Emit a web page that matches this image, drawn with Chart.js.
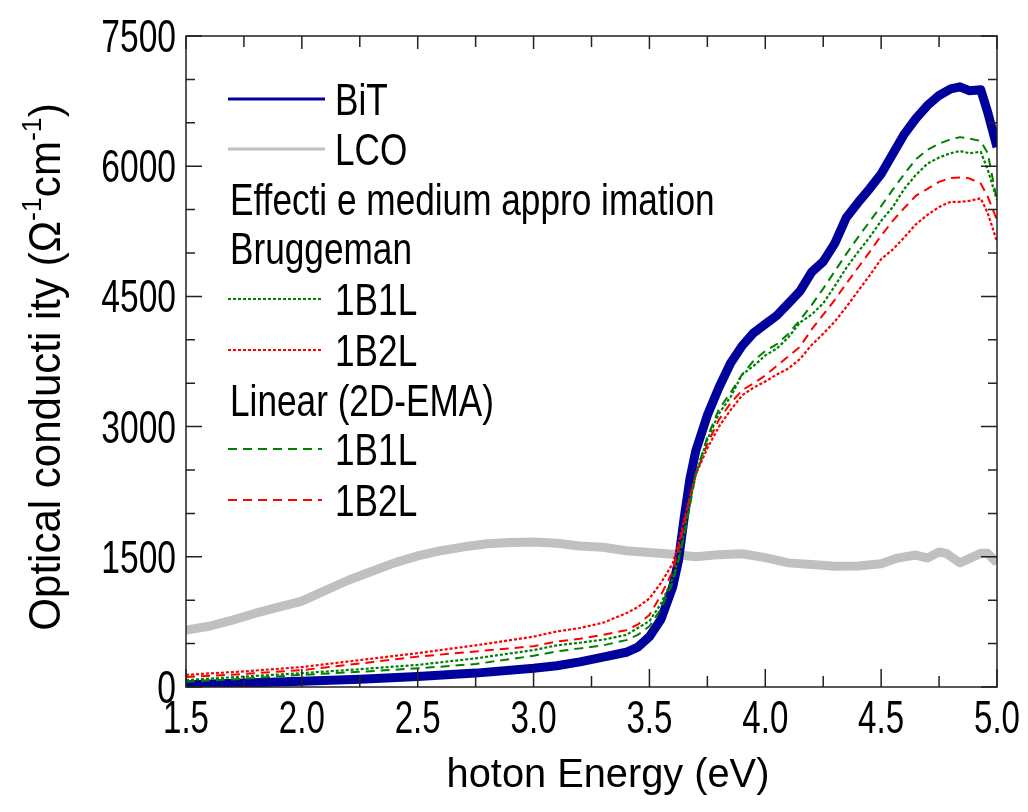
<!DOCTYPE html>
<html>
<head>
<meta charset="utf-8">
<title>Optical conductivity</title>
<script src="https://cdn.jsdelivr.net/npm/chart.js@4.4.1/dist/chart.umd.min.js"></script>
<style>
  html, body { margin: 0; padding: 0; background: #fff; }
  canvas { display: block; }
</style>
</head>
<body>
<canvas id="chart" width="1028" height="812"></canvas>
<script>
// photon energy (eV) shared by the film and model curves
const energy = [1.5, 1.75, 2.0, 2.25, 2.5, 2.75, 3.0, 3.1, 3.2, 3.3, 3.4, 3.45, 3.5, 3.55, 3.6, 3.625, 3.65, 3.675, 3.7, 3.75,
  3.8, 3.85, 3.9, 3.95, 4.0, 4.05, 4.1, 4.15, 4.2, 4.25, 4.3, 4.35, 4.4, 4.45, 4.5, 4.55, 4.6, 4.65, 4.7, 4.75,
  4.8, 4.84, 4.88, 4.93, 4.96, 5.0];

// BiT film
const bit = [25, 45, 65, 90, 120, 160, 215, 245, 290, 345, 400, 460, 580, 780, 1150, 1450, 1950, 2400, 2720, 3130,
  3450, 3730, 3930, 4080, 4180, 4280, 4420, 4560, 4780, 4900, 5110, 5410, 5580, 5740, 5910, 6140, 6370, 6550, 6700, 6815,
  6890, 6915, 6870, 6880, 6620, 6220];

// Bruggeman effective medium
const brug1B1L = [80, 120, 160, 205, 255, 330, 425, 480, 510, 545, 600, 680, 760, 960, 1250, 1480, 1780, 2120, 2450, 2850,
  3150, 3340, 3600, 3700, 3820, 3900, 4030, 4200, 4290, 4420, 4620, 4830, 5010, 5180, 5370, 5530, 5740, 5900, 6030, 6100,
  6150, 6175, 6150, 6165, 5960, 5610];
const brug1B2L = [140, 180, 230, 310, 390, 480, 580, 640, 680, 740, 850, 920, 1020, 1200, 1420, 1640, 1930, 2200, 2450, 2750,
  3000, 3190, 3360, 3450, 3520, 3600, 3670, 3780, 3940, 4070, 4210, 4380, 4560, 4740, 4930, 5040, 5180, 5330, 5440, 5530,
  5590, 5590, 5600, 5630, 5460, 5130];

// linear (2D-EMA)
const lin1B1L = [60, 95, 140, 175, 215, 265, 360, 410, 445, 480, 540, 600, 700, 900, 1200, 1450, 1750, 2100, 2450, 2880,
  3200, 3390, 3600, 3760, 3870, 3950, 4070, 4230, 4400, 4590, 4790, 4990, 5180, 5360, 5540, 5730, 5910, 6080, 6190, 6260,
  6310, 6335, 6320, 6290, 6150, 5600];
const lin1B2L = [115, 150, 195, 270, 350, 410, 470, 525, 555, 600, 655, 720, 830, 1060, 1330, 1580, 1880, 2180, 2450, 2800,
  3080, 3270, 3420, 3500, 3590, 3700, 3810, 3920, 4120, 4290, 4460, 4650, 4830, 5010, 5200, 5370, 5520, 5660, 5740, 5820,
  5865, 5870, 5860, 5800, 5650, 5380];

// LCO film
const lcoEnergy = [1.5, 1.6, 1.7, 1.8, 1.9, 2.0, 2.1, 2.2, 2.3, 2.4, 2.5, 2.6, 2.7, 2.8, 2.9, 3.0, 3.1, 3.2, 3.3, 3.4,
  3.5, 3.6, 3.7, 3.8, 3.9, 4.0, 4.1, 4.2, 4.3, 4.4, 4.5, 4.57, 4.65, 4.7, 4.75, 4.78, 4.84, 4.93, 4.96, 5.0];
const lco = [655, 700, 770, 850, 920, 990, 1110, 1230, 1330, 1430, 1510, 1570, 1615, 1650, 1665, 1670, 1655, 1625, 1610, 1570,
  1550, 1530, 1500, 1525, 1535, 1490, 1430, 1410, 1390, 1395, 1420, 1485, 1520, 1485, 1555, 1540, 1430, 1540, 1540, 1430];

const xTickValues = [1.5, 2.0, 2.5, 3.0, 3.5, 4.0, 4.5, 5.0];
const xTickLabels = ['1.5', '2.0', '2.5', '3.0', '3.5', '4.0', '4.5', '5.0'];
const yTickValues = [0, 1500, 3000, 4500, 6000, 7500];
const yTickLabels = ['0', '1500', '3000', '4500', '6000', '7500'];

const FONT = "'Liberation Sans', Arial, sans-serif";
const DOT = [3, 2];
const DASH = [9, 6];

function pts(xs, ys) {
  return xs.map((e, i) => ({ x: e, y: ys[i] }));
}

// narrow text: draw with a horizontal squeeze
function narrowText(ctx, text, x, y, size, squeeze, align) {
  ctx.save();
  ctx.font = size + 'px ' + FONT;
  const w = ctx.measureText(text).width * squeeze;
  let left = x;
  if (align === 'center') left = x - w / 2;
  else if (align === 'right') left = x - w;
  ctx.translate(left, y);
  ctx.scale(squeeze, 1);
  ctx.textAlign = 'left';
  ctx.fillText(text, 0, 0);
  ctx.restore();
}

// legend rows: text, and the dataset index whose line is shown (null = heading)
const legendRows = [
  { text: 'BiT', ds: 4, indent: false },
  { text: 'LCO', ds: 5, indent: false },
  { text: 'Effecti e medium appro imation', ds: null },
  { text: 'Bruggeman', ds: null },
  { text: '1B1L', ds: 0, indent: true },
  { text: '1B2L', ds: 1, indent: true },
  { text: 'Linear (2D-EMA)', ds: null },
  { text: '1B1L', ds: 2, indent: true },
  { text: '1B2L', ds: 3, indent: true }
];

const decorations = {
  id: 'decorations',
  afterDraw(chart) {
    const { ctx, chartArea: a, scales: { x, y } } = chart;
    ctx.save();

    // frame with inward ticks on all four sides
    ctx.strokeStyle = '#222';
    ctx.lineWidth = 1.5;
    ctx.strokeRect(a.left, a.top, a.right - a.left, a.bottom - a.top);
    ctx.beginPath();
    for (let i = 0; i <= 14; i++) {
      const px = x.getPixelForValue(1.5 + i * 0.25);
      const len = i % 2 === 0 ? 18 : 11;
      ctx.moveTo(px, a.bottom); ctx.lineTo(px, a.bottom - len);
      ctx.moveTo(px, a.top); ctx.lineTo(px, a.top + (i % 2 === 0 ? 13 : 11));
    }
    for (let i = 0; i <= 15; i++) {
      const py = y.getPixelForValue(i * 500);
      const len = i % 3 === 0 ? 16 : 9;
      ctx.moveTo(a.left, py); ctx.lineTo(a.left + len, py);
      ctx.moveTo(a.right, py); ctx.lineTo(a.right - len, py);
    }
    ctx.stroke();

    ctx.fillStyle = '#000';
    ctx.textBaseline = 'alphabetic';

    // tick labels
    xTickValues.forEach((v, i) => {
      narrowText(ctx, xTickLabels[i], x.getPixelForValue(v), a.bottom + 46, 46, 0.72, 'center');
    });
    yTickValues.forEach((v, i) => {
      narrowText(ctx, yTickLabels[i], a.left - 10, y.getPixelForValue(v) + 16, 46, 0.73, 'right');
    });

    // x title
    narrowText(ctx, 'hoton Energy (eV)', 608, 787, 41, 0.97, 'center');

    // y title with superscripts, rotated
    ctx.save();
    ctx.translate(60, 367);
    ctx.rotate(-Math.PI / 2);
    const sq = 0.955;
    const parts = [
      { t: 'Optical conducti ity (', s: 44, dy: 0 },
      { t: '\u03A9', s: 44, dy: 0 },
      { t: '-1', s: 28, dy: -19 },
      { t: 'cm', s: 44, dy: 0 },
      { t: '-1', s: 28, dy: -19 },
      { t: ')', s: 44, dy: 0 }
    ];
    let total = 0;
    parts.forEach(p => { ctx.font = p.s + 'px ' + FONT; p.w = ctx.measureText(p.t).width * sq; total += p.w; });
    let cx = -total / 2;
    parts.forEach(p => { narrowText(ctx, p.t, cx, p.dy, p.s, sq, 'left'); cx += p.w; });
    ctx.restore();

    // legend
    const rowY = [99, 149, 199, 248, 299, 350, 400, 449, 500];
    legendRows.forEach((row, i) => {
      const ly = rowY[i];
      if (row.ds === null) {
        narrowText(ctx, row.text, 230, ly + 16, 44, 0.8, 'left');
        return;
      }
      const ds = chart.data.datasets[row.ds];
      ctx.save();
      ctx.strokeStyle = ds.borderColor;
      ctx.lineWidth = row.indent ? 2 : 3;
      ctx.setLineDash(ds.borderDash || []);
      ctx.beginPath();
      ctx.moveTo(228, ly);
      ctx.lineTo(row.indent ? 322 : 325, ly);
      ctx.stroke();
      ctx.restore();
      narrowText(ctx, row.text, 335, ly + 16, 44, 0.8, 'left');
    });

    ctx.restore();
  }
};

new Chart(document.getElementById('chart'), {
  type: 'line',
  data: {
    datasets: [
      { label: 'Bruggeman 1B1L', data: pts(energy, brug1B1L), borderColor: '#008000', borderWidth: 2.2, borderDash: DOT },
      { label: 'Bruggeman 1B2L', data: pts(energy, brug1B2L), borderColor: '#ff0000', borderWidth: 2.2, borderDash: DOT },
      { label: 'Linear 1B1L', data: pts(energy, lin1B1L), borderColor: '#008000', borderWidth: 2, borderDash: DASH },
      { label: 'Linear 1B2L', data: pts(energy, lin1B2L), borderColor: '#ff0000', borderWidth: 2, borderDash: DASH },
      { label: 'BiT', data: pts(energy, bit), borderColor: '#00009c', borderWidth: 9 },
      { label: 'LCO', data: pts(lcoEnergy, lco), borderColor: '#c0c0c0', borderWidth: 9 }
    ]
  },
  options: {
    responsive: false,
    animation: false,
    elements: { point: { radius: 0 }, line: { tension: 0, borderJoinStyle: 'round', borderCapStyle: 'butt' } },
    layout: { padding: { top: 36, right: 31, left: 0, bottom: 0 } },
    plugins: { legend: { display: false }, tooltip: { enabled: false } },
    scales: {
      x: {
        type: 'linear',
        min: 1.5,
        max: 5.0,
        grid: { display: false },
        border: { display: false },
        ticks: { display: false, stepSize: 0.5 },
        afterFit(scale) { scale.height = 125; }
      },
      y: {
        min: 0,
        max: 7500,
        grid: { display: false },
        border: { display: false },
        ticks: { display: false, stepSize: 1500 },
        afterFit(scale) { scale.width = 186; }
      }
    }
  },
  plugins: [decorations]
});
</script>
</body>
</html>
